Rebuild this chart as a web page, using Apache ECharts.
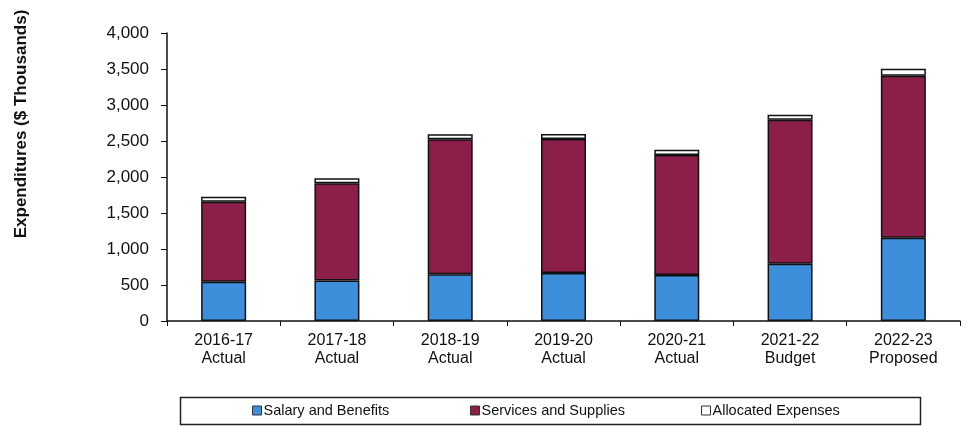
<!DOCTYPE html>
<html>
<head>
<meta charset="utf-8">
<script src="https://cdn.jsdelivr.net/npm/echarts@6/dist/echarts.min.js"></script>
<style>
html,body{margin:0;padding:0;background:#fff;}
#chart{width:967px;height:426px;}
</style>
</head>
<body>
<div id="chart"></div>
<script>
const categories = ['2016-17\nActual','2017-18\nActual','2018-19\nActual','2019-20\nActual','2020-21\nActual','2021-22\nBudget','2022-23\nProposed'];
const salaryBenefits = [545, 563, 650, 667, 640, 795, 1155];
const servicesSupplies = [1110, 1350, 1875, 1860, 1667, 2000, 2250];
const allocatedExpenses = [70, 70, 70, 70, 70, 70, 100];
const yTicks = {min: 0, max: 4000, interval: 500};
const seriesNames = ['Salary and Benefits', 'Services and Supplies', 'Allocated Expenses'];

const chart = echarts.init(document.getElementById('chart'));
const FONT = 'Liberation Sans, Arial, sans-serif';
const border = {borderColor: '#111', borderWidth: 1.5};

chart.setOption({
  animation: false,
  backgroundColor: '#fff',
  grid: {left: 167, right: 7, top: 33, bottom: 105},
  xAxis: {
    type: 'category',
    data: categories,
    axisLine: {lineStyle: {color: '#111', width: 1.5}},
    axisTick: {show: true, alignWithLabel: false, length: 5, lineStyle: {color: '#111'}},
    axisLabel: {color: '#111', fontFamily: FONT, fontSize: 16, lineHeight: 18, margin: 11, interval: 0}
  },
  yAxis: {
    type: 'value',
    min: yTicks.min, max: yTicks.max, interval: yTicks.interval,
    splitLine: {show: false},
    axisLine: {show: true, lineStyle: {color: '#111', width: 1.5}},
    axisTick: {show: true, length: 6, lineStyle: {color: '#111'}},
    axisLabel: {color: '#111', fontFamily: FONT, fontSize: 17, margin: 18,
      formatter: v => v.toLocaleString('en-US')}
  },
  legend: [
    {data: [seriesNames[0]], left: 252, top: 403},
    {data: [seriesNames[1]], left: 470, top: 403},
    {data: [seriesNames[2]], left: 701, top: 403}
  ].map(l => Object.assign(l, {
    orient: 'horizontal', icon: 'rect', itemWidth: 9, itemHeight: 9, itemGap: 4, padding: 0,
    textStyle: {color: '#111', fontFamily: FONT, fontSize: 14.5, padding: [0,0,0,-3]},
    itemStyle: {borderColor: '#333', borderWidth: 1}
  })),
  graphic: [
    {type: 'rect', left: 178, top: 395, shape: {width: 740, height: 27},
      style: {fill: 'none', stroke: '#222', lineWidth: 1.5}},
    {type: 'text', x: 21, y: 124, rotation: Math.PI / 2,
      style: {text: 'Expenditures ($ Thousands)', fill: '#111', font: 'bold 17px Liberation Sans, Arial, sans-serif',
        align: 'center', verticalAlign: 'middle'}}
  ],
  series: [
    {name: seriesNames[0], type: 'bar', stack: 'total', barWidth: 45, data: salaryBenefits,
      itemStyle: Object.assign({color: '#3d8fdb'}, border)},
    {name: seriesNames[1], type: 'bar', stack: 'total', barWidth: 45, data: servicesSupplies,
      itemStyle: Object.assign({color: '#8c1f4a'}, border)},
    {name: seriesNames[2], type: 'bar', stack: 'total', barWidth: 45, data: allocatedExpenses,
      itemStyle: Object.assign({color: '#ffffff'}, border)}
  ]
});
</script>
</body>
</html>
